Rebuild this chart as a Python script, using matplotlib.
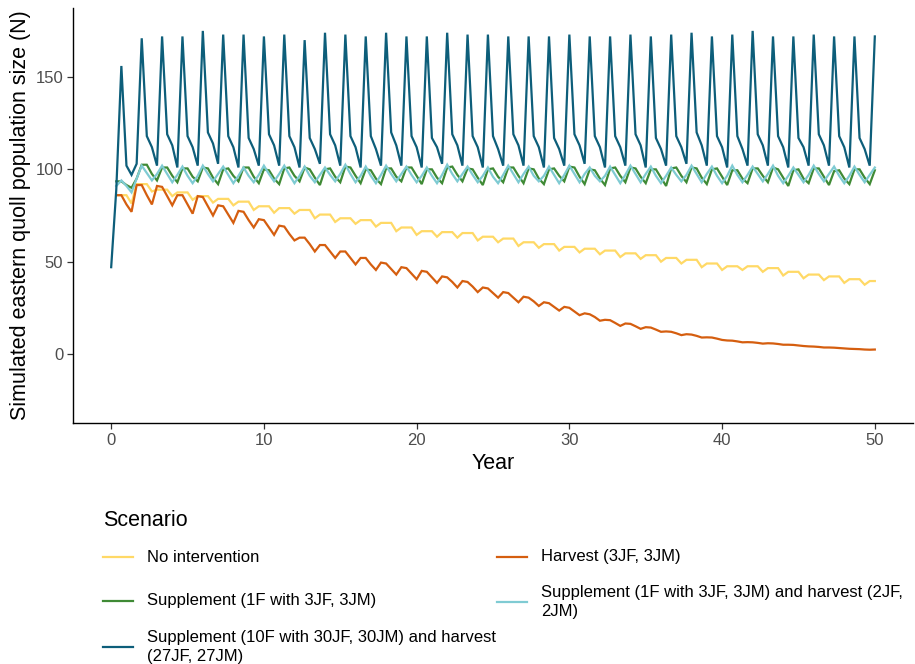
import numpy as np
import matplotlib
matplotlib.use('Agg')
import matplotlib.pyplot as plt
from matplotlib.lines import Line2D

plt.rcParams['font.family'] = ['Liberation Sans', 'DejaVu Sans']

# simulated population size, 3 time steps per year, 0..50 years
# (None = no value at that step)
no_intervention = [None,
    86, 86, 86, 81.5,  92, 92, 92, 88,  89, 89, 89, 85.5,  87.5, 87.5, 87.5, 83.5,
    85.5, 85.5, 85.5, 82,  84, 84, 84, 80.5,  82.5, 82.5, 82.5, 78,  80, 80, 80, 76.5,
    79, 79, 79, 76,  78, 78, 78, 73.5,  75.5, 75.5, 75.5, 71.5,  73.5, 73.5, 73.5, 70.5,
    72.5, 72.5, 72.5, 69,  71, 71, 71, 66.5,  68.5, 68.5, 68.5, 64.5,  66.5, 66.5, 66.5, 63.5,
    66, 66, 66, 63,  65.5, 65.5, 65.5, 61.5,  63.5, 63.5, 63.5, 60.5,  62.5, 62.5, 62.5, 58.5,
    60.5, 60.5, 60.5, 57.5,  59.5, 59.5, 59.5, 56,  58, 58, 58, 55,  57, 57, 57, 54,
    56, 56, 56, 52.5,  54.5, 54.5, 54.5, 51.5,  53.5, 53.5, 53.5, 50,  52, 52, 52, 49,
    51, 51, 51, 47,  49, 49, 49, 45.5,  47.5, 47.5, 47.5, 45.5,  47.5, 47.5, 47.5, 44.5,
    46.5, 46.5, 46.5, 42.5,  44.5, 44.5, 44.5, 41,  43, 43, 43, 40,  42, 42, 42, 38.5,
    40.5, 40.5, 40.5, 37.5,
    39.5, 39.5]

harvest = [None,
    86, 86, 81, 77,  91.5, 91.5, 86, 81,  91, 90.5, 85.5, 80.5,  86, 86, 81, 76,
    85.5, 85, 80, 75,  80.5, 80, 75.5, 71,  77.5, 77, 72.5, 68.5,  73, 72.5, 68.5, 64.5,
    69.5, 69, 65, 61.5,  63, 63, 59.5, 55.5,  59, 59, 55.5, 52,  55.5, 55.5, 52, 48.5,
    52, 52, 48.5, 45.5,  49.5, 49, 46, 43,  47, 46.5, 43.5, 40.5,  45, 44.5, 41.5, 38.5,
    42, 41.5, 39, 36,  39.5, 39, 36.5, 33.5,  36, 35.5, 33, 30.5,  33.5, 33, 30.5, 28,
    31, 30.5, 28.5, 26,  28, 27.5, 25.5, 23.5,  25.5, 25, 23, 21,  22, 21.5, 20, 18,
    18.5, 18.3, 16.8, 15.2,  16.5, 16.3, 15, 13.6,  14.5, 14.3, 13.2, 12,  12.2, 12, 11.2, 10.2,
    10.7, 10.5, 9.8, 8.9,  9, 8.9, 8.3, 7.6,  7.3, 7.2, 6.8, 6.3,  6.4, 6.3, 6, 5.6,
    5.8, 5.7, 5.4, 5,  5, 4.9, 4.6, 4.3,  4.1, 4, 3.8, 3.5,  3.5, 3.4, 3.2, 3,
    2.8, 2.7, 2.6, 2.4,
    2.3, 2.4]

supplement = [None,
    93.5, 93.5, 91.5, 90,  95, 102.5, 102.5, 97.5,  94, 101, 101, 96.5,  93, 100.5, 100.5, 96,
    93.5, 101, 100.5, 95.5,  92, 100, 100.5, 96.5,  93.5, 101, 101, 96,  92.5, 100, 99.5, 95,
    92, 100.5, 101, 96.5,  93.5, 101, 100, 95.5,  91.5, 100, 100.5, 96,  93, 101.5, 101, 96.5,
    92.5, 100, 99.5, 95,  92, 100.5, 100.5, 96,  93.5, 101, 101, 96.5,  92, 100, 100, 95.5,
    92.5, 101, 101.5, 97,  93.5, 100.5, 100, 95.5,  91.5, 100, 100.5, 96,  93, 101, 101, 96.5,
    92.5, 100.5, 100, 95,  92, 100, 100.5, 96.5,  93.5, 101.5, 101, 96,  92, 100, 99.5, 95,
    91.5, 100.5, 101, 96.5,  93, 101, 100.5, 96,  92.5, 100, 100, 95.5,  91, 100.5, 101, 96.5,
    93, 101, 100.5, 95.5,  92, 100, 100.5, 96,  91.5, 99.5, 99.5, 95,  92.5, 100.5, 100.5, 96.5,
    93, 101, 100, 95.5,  91, 99.5, 100, 95,  92.5, 100.5, 100.5, 96,  91.5, 99, 99.5, 95,
    92, 100, 100, 95.5,
    92, 99.5]

supplement_harvest = [None,
    91, 94, 91, 87.5,  95, 102, 98, 94,  97.5, 102, 97.5, 93,  97, 101.5, 96.5, 92.5,
    96.5, 102, 97.5, 93.5,  97.5, 101.5, 97, 92.5,  96.5, 101, 96.5, 93,  97, 102, 97.5, 93.5,
    97.5, 102, 97, 92.5,  96.5, 101.5, 96.5, 93,  97, 101, 97, 93.5,  97.5, 102.5, 97.5, 93,
    96.5, 101.5, 96.5, 92.5,  97, 102, 97.5, 93.5,  97.5, 101.5, 97, 93,  96.5, 101, 96.5, 92.5,
    97, 102.5, 97.5, 93.5,  97.5, 101.5, 97, 93,  96.5, 101, 96, 92.5,  97, 102, 97.5, 93,
    97.5, 101.5, 96.5, 93.5,  96.5, 101.5, 97, 92.5,  97, 102, 97.5, 93,  97.5, 101, 96.5, 93.5,
    96.5, 101.5, 97, 92.5,  97, 102, 97.5, 93,  97.5, 101.5, 96.5, 92.5,  96.5, 101, 97, 93.5,
    97, 102, 97.5, 93,  97.5, 101.5, 96.5, 92.5,  96.5, 102, 97, 93,  97, 101.5, 97.5, 93.5,
    97.5, 102, 96.5, 92.5,  96.5, 101, 97, 93,  97, 102, 97.5, 93.5,  97.5, 101.5, 96.5, 92.5,
    96.5, 101.5, 97, 93,
    97, 101]

supplement_large = [47,
    89, 156, 102, 97,  103, 171, 118, 112,  102, 172, 119, 113,  101, 172, 118, 112,
    102, 175, 120, 114,  103, 173, 118, 112,  101, 173, 117, 111,  102, 172, 119, 113,
    102, 173, 118, 112,  101, 170, 117, 111,  103, 174, 119, 113,  102, 173, 118, 112,
    101, 172, 118, 111,  102, 174, 120, 113,  102, 172, 118, 112,  101, 172, 117, 112,
    103, 174, 119, 113,  102, 173, 118, 112,  101, 173, 118, 111,  102, 172, 119, 113,
    102, 172, 118, 112,  101, 172, 117, 111,  102, 173, 119, 113,  103, 172, 118, 112,
    101, 172, 118, 112,  102, 173, 119, 113,  101, 172, 117, 111,  102, 173, 118, 112,
    103, 174, 120, 113,  102, 172, 118, 112,  101, 173, 118, 111,  102, 175, 119, 113,
    102, 172, 118, 112,  101, 172, 117, 112,  102, 173, 119, 113,  102, 172, 118, 112,
    101, 172, 117, 111,
    102, 172]

labels = ['No intervention',
          'Harvest (3JF, 3JM)',
          'Supplement (1F with 3JF, 3JM)',
          'Supplement (1F with 3JF, 3JM) and harvest (2JF,\n2JM)',
          'Supplement (10F with 30JF, 30JM) and harvest\n(27JF, 27JM)']
colors = ['#FFD966', '#D55E0F', '#3F8A35', '#7FCBD3', '#0D5E7A']
series = [no_intervention, harvest, supplement, supplement_harvest, supplement_large]

steps_per_year = 3
W, H = 915, 664
fig = plt.figure(figsize=(W / 100, H / 100), dpi=100)
ax = fig.add_axes([73 / W, 1 - 423 / H, 840 / W, 415 / H])

for vals, c in zip(series, colors):
    y = np.array(vals, dtype=float)
    year = np.arange(len(y)) / steps_per_year
    ax.plot(year, y, color=c, lw=1.6, solid_joinstyle='miter')

ax.set_xlim(-2.5, 52.5)
ax.set_ylim(-37.4, 187.4)
ax.set_xticks([0, 10, 20, 30, 40, 50])
ax.set_yticks([0, 50, 100, 150])
for s in ['top', 'right']:
    ax.spines[s].set_visible(False)
for s in ['left', 'bottom']:
    ax.spines[s].set_linewidth(1.0)
    ax.spines[s].set_color('black')
ax.tick_params(length=4, width=0.9, color='#333333', labelcolor='#4D4D4D',
               labelsize=12, pad=3)
ax.set_xlabel('Year', fontsize=15.5, labelpad=4)
ax.set_ylabel('Simulated eastern quoll population size (N)', fontsize=15.5, labelpad=3)

# legend drawn by hand so rows line up like ggplot
def fx(px):
    return px / W

def fy(py):
    return 1 - py / H

fig.text(fx(103), fy(520), 'Scenario', fontsize=15.5, va='center', ha='left')
spots = [(103, 557), (497, 557), (103, 601), (497, 602), (103, 647)]
for (px, py), lab, c in zip(spots, labels, colors):
    fig.add_artist(Line2D([fx(px), fx(px + 30)], [fy(py), fy(py)], color=c, lw=1.6,
                          transform=fig.transFigure))
    fig.text(fx(px + 44), fy(py), lab, fontsize=12, va='center', ha='left',
             linespacing=1.35)

fig.savefig('out.png', dpi=100)
